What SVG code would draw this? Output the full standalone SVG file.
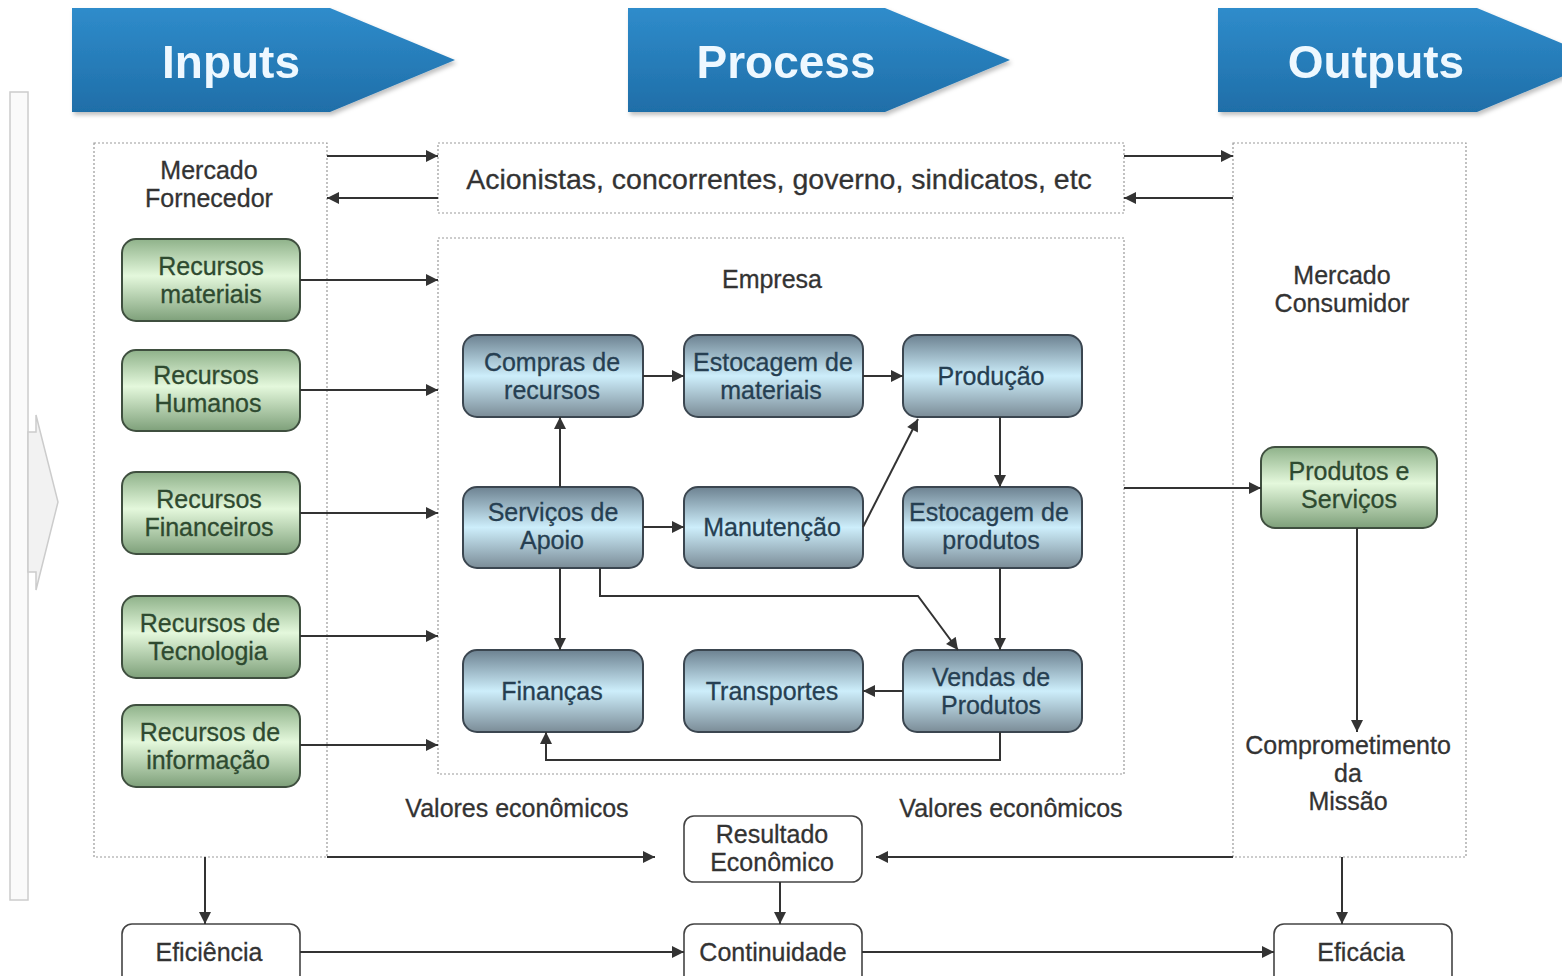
<svg xmlns="http://www.w3.org/2000/svg" width="1562" height="976" viewBox="0 0 1562 976">
<defs>
<style>
text{font-family:"Liberation Sans",Arial,sans-serif;text-anchor:middle}
.ban{font-size:46px;font-weight:bold;fill:#eef8ff}
.lbl{font-size:25px;fill:#333;stroke:#333;stroke-width:0.3}
.gt{font-size:25px;fill:#2e4a30;stroke:#2e4a30;stroke-width:0.3}
.bt{font-size:25px;fill:#263f52;stroke:#263f52;stroke-width:0.3}
.dot{fill:#fff;stroke:#999;stroke-width:1.2;stroke-dasharray:2 2}
.green{fill:url(#gg);stroke:#3f4f3f;stroke-width:2}
.blue{fill:url(#bg);stroke:#3b4650;stroke-width:2}
.wbox{fill:#fff;stroke:#444;stroke-width:1.6}
.con{fill:none;stroke:#333;stroke-width:2;marker-end:url(#ah)}
</style>
<linearGradient id="ban" x1="0" y1="0" x2="0" y2="1">
<stop offset="0" stop-color="#2f8ccb"/><stop offset="1" stop-color="#1f6ea8"/>
</linearGradient>
<linearGradient id="gg" x1="0" y1="0" x2="0" y2="1">
<stop offset="0" stop-color="#8fb28a"/><stop offset="0.45" stop-color="#e4f8dc"/><stop offset="1" stop-color="#7ea07a"/>
</linearGradient>
<linearGradient id="bg" x1="0" y1="0" x2="0" y2="1">
<stop offset="0" stop-color="#6d8291"/><stop offset="0.5" stop-color="#cdeefb"/><stop offset="1" stop-color="#7b8c97"/>
</linearGradient>
<marker id="ah" viewBox="0 0 10 10" refX="10" refY="5" markerWidth="13" markerHeight="12" orient="auto" markerUnits="userSpaceOnUse">
<path d="M0,0 L10,5 L0,10 z" fill="#333"/>
</marker>
<filter id="sh" x="-10%" y="-10%" width="130%" height="130%"><feDropShadow dx="2" dy="3" stdDeviation="2" flood-color="#000" flood-opacity="0.25"/></filter>
</defs>
<rect width="1562" height="976" fill="#fff"/>

<g id="side-strip">
<rect x="10" y="92" width="18" height="808" fill="#fafafa" stroke="#ccc" stroke-width="1.5"/>
<path d="M28,432 L36,432 L36,415 L58,502 L36,590 L36,572 L28,572 z" fill="#f2f2f2" stroke="#ccc" stroke-width="1.5"/>
</g>

<g id="banner-inputs" filter="url(#sh)">
<path d="M72,8 L330,8 L455,60 L330,112 L72,112 z" fill="url(#ban)"/>
<text class="ban" x="231" y="78">Inputs</text>
</g>
<g id="banner-process" filter="url(#sh)">
<path d="M628,8 L885,8 L1010,60 L885,112 L628,112 z" fill="url(#ban)"/>
<text class="ban" x="786" y="78">Process</text>
</g>
<g id="banner-outputs" filter="url(#sh)">
<path d="M1218,8 L1477,8 L1602,60 L1477,112 L1218,112 z" fill="url(#ban)"/>
<text class="ban" x="1376" y="78">Outputs</text>
</g>

<g id="mercado-fornecedor">
<rect class="dot" x="94" y="143" width="233" height="714"/>
<text class="lbl" x="209" y="179">Mercado</text>
<text class="lbl" x="209" y="207">Fornecedor</text>
</g>
<g id="stakeholders">
<rect class="dot" x="438" y="143" width="686" height="70"/>
<text class="lbl" x="779" y="189" style="font-size:28.5px">Acionistas, concorrentes, governo, sindicatos, etc</text>
</g>
<g id="empresa">
<rect class="dot" x="438" y="238" width="686" height="536"/>
<text class="lbl" x="772" y="288">Empresa</text>
</g>
<g id="mercado-consumidor">
<rect class="dot" x="1233" y="143" width="233" height="714"/>
<text class="lbl" x="1342" y="284">Mercado</text>
<text class="lbl" x="1342" y="312">Consumidor</text>
<text class="lbl" x="1348" y="754">Comprometimento</text>
<text class="lbl" x="1348" y="782">da</text>
<text class="lbl" x="1348" y="810">Missão</text>
</g>

<g id="rec-materiais"><rect class="green" x="122" y="239" width="178" height="82" rx="14"/><text class="gt" x="211" y="275">Recursos</text><text class="gt" x="211" y="303">materiais</text></g>
<g id="rec-humanos"><rect class="green" x="122" y="350" width="178" height="81" rx="14"/><text class="gt" x="206" y="384">Recursos</text><text class="gt" x="208" y="412">Humanos</text></g>
<g id="rec-financeiros"><rect class="green" x="122" y="472" width="178" height="82" rx="14"/><text class="gt" x="209" y="508">Recursos</text><text class="gt" x="209" y="536">Financeiros</text></g>
<g id="rec-tecnologia"><rect class="green" x="122" y="596" width="178" height="82" rx="14"/><text class="gt" x="210" y="632">Recursos de</text><text class="gt" x="208" y="660">Tecnologia</text></g>
<g id="rec-informacao"><rect class="green" x="122" y="705" width="178" height="82" rx="14"/><text class="gt" x="210" y="741">Recursos de</text><text class="gt" x="208" y="769">informação</text></g>
<g id="produtos-servicos"><rect class="green" x="1261" y="447" width="176" height="81" rx="14"/><text class="gt" x="1349" y="480">Produtos e</text><text class="gt" x="1349" y="508">Serviços</text></g>

<g id="compras"><rect class="blue" x="463" y="335" width="180" height="82" rx="14"/><text class="bt" x="552" y="371">Compras de</text><text class="bt" x="552" y="399">recursos</text></g>
<g id="estoc-materiais"><rect class="blue" x="684" y="335" width="179" height="82" rx="14"/><text class="bt" x="773" y="371">Estocagem de</text><text class="bt" x="771" y="399">materiais</text></g>
<g id="producao"><rect class="blue" x="903" y="335" width="179" height="82" rx="14"/><text class="bt" x="991" y="385">Produção</text></g>
<g id="servicos-apoio"><rect class="blue" x="463" y="487" width="180" height="81" rx="14"/><text class="bt" x="553" y="521">Serviços de</text><text class="bt" x="552" y="549">Apoio</text></g>
<g id="manutencao"><rect class="blue" x="684" y="487" width="179" height="81" rx="14"/><text class="bt" x="772" y="536">Manutenção</text></g>
<g id="estoc-produtos"><rect class="blue" x="903" y="487" width="179" height="81" rx="14"/><text class="bt" x="989" y="521">Estocagem de</text><text class="bt" x="991" y="549">produtos</text></g>
<g id="financas"><rect class="blue" x="463" y="650" width="180" height="82" rx="14"/><text class="bt" x="552" y="700">Finanças</text></g>
<g id="transportes"><rect class="blue" x="684" y="650" width="179" height="82" rx="14"/><text class="bt" x="772" y="700">Transportes</text></g>
<g id="vendas"><rect class="blue" x="903" y="650" width="179" height="82" rx="14"/><text class="bt" x="991" y="686">Vendas de</text><text class="bt" x="991" y="714">Produtos</text></g>

<g id="valores">
<text class="lbl" x="517" y="817">Valores econômicos</text>
<text class="lbl" x="1011" y="817">Valores econômicos</text>
</g>
<g id="resultado"><rect class="wbox" x="684" y="816" width="178" height="66" rx="10"/><text class="lbl" x="772" y="843">Resultado</text><text class="lbl" x="772" y="871">Econômico</text></g>
<g id="eficiencia"><rect class="wbox" x="122" y="924" width="178" height="62" rx="10"/><text class="lbl" x="209" y="961">Eficiência</text></g>
<g id="continuidade"><rect class="wbox" x="684" y="924" width="178" height="62" rx="10"/><text class="lbl" x="773" y="961">Continuidade</text></g>
<g id="eficacia"><rect class="wbox" x="1274" y="924" width="178" height="62" rx="10"/><text class="lbl" x="1361" y="961">Eficácia</text></g>

<g id="connectors">
<path class="con" d="M327,156 H438"/>
<path class="con" d="M438,198 H327"/>
<path class="con" d="M1124,156 H1233"/>
<path class="con" d="M1233,198 H1124"/>
<path class="con" d="M300,280 H438"/>
<path class="con" d="M300,390 H438"/>
<path class="con" d="M300,513 H438"/>
<path class="con" d="M300,636 H438"/>
<path class="con" d="M300,745 H438"/>
<path class="con" d="M643,376 H684"/>
<path class="con" d="M863,376 H903"/>
<path class="con" d="M560,487 V417"/>
<path class="con" d="M643,527 H684"/>
<path class="con" d="M863,527 L918,419"/>
<path class="con" d="M1000,417 V487"/>
<path class="con" d="M1000,568 V650"/>
<path class="con" d="M560,568 V650"/>
<path class="con" d="M600,568 V596 H918 L958,650"/>
<path class="con" d="M903,691 H863"/>
<path class="con" d="M1000,732 V760 H546 V732"/>
<path class="con" d="M1124,488 H1261"/>
<path class="con" d="M1357,528 V732"/>
<path class="con" d="M327,857 H655"/>
<path class="con" d="M1233,857 H876"/>
<path class="con" d="M780,882 V924"/>
<path class="con" d="M205,857 V924"/>
<path class="con" d="M1342,857 V924"/>
<path class="con" d="M300,952 H684"/>
<path class="con" d="M862,952 H1274"/>
</g>
</svg>
